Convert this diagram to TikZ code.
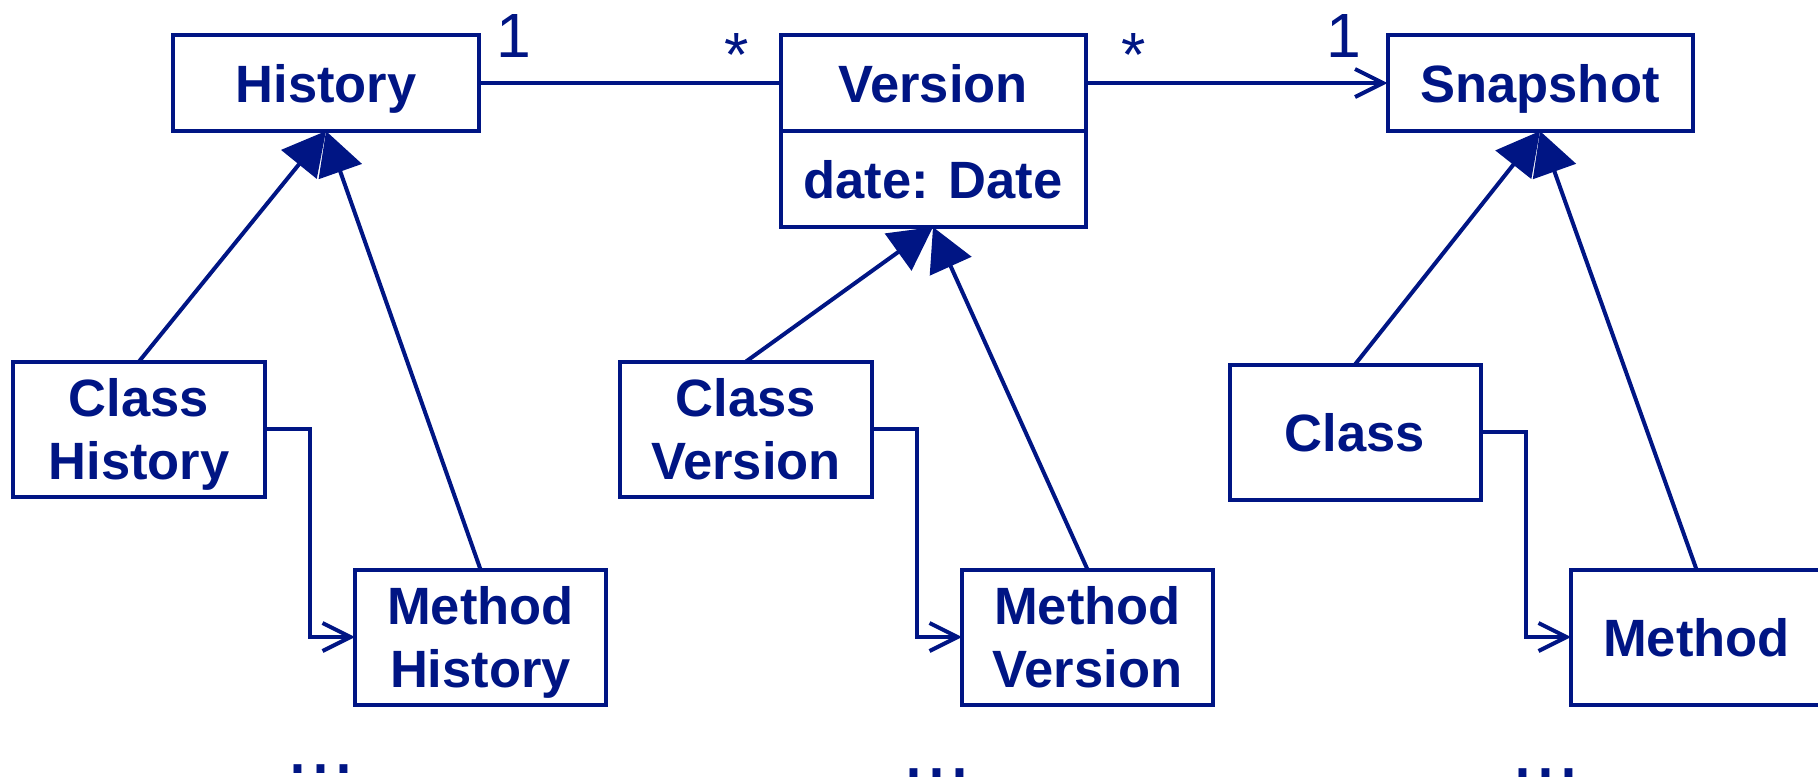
\documentclass[tikz,border=0pt]{standalone}
\usepackage{fontspec}
\setmainfont{Liberation Sans}
\usetikzlibrary{positioning,arrows.meta}
\definecolor{umlblue}{RGB}{0,21,132}

\begin{document}
\begin{tikzpicture}[x=0.2pt, y=-0.2pt, line width=0.8pt, umlblue]
  \tikzstyle{box}=[draw, rectangle, outer sep=0pt, inner sep=0pt, align=center,
    text depth=0pt, font=\fontsize{10.5}{12.6}\selectfont\bfseries]
  \tikzstyle{bigbox}=[box, minimum width=61pt, minimum height=19.2pt]
  \tikzstyle{smallbox}=[box, minimum width=50.2pt, minimum height=27pt]
  \tikzstyle{mult}=[anchor=base, inner sep=0pt, font=\fontsize{12.5}{15}\selectfont]
  \tikzstyle{etc}=[anchor=base, inner sep=0pt, font=\fontsize{16.5}{20}\selectfont]
  \tikzstyle{isa}=[-{Triangle[length=8.6pt, width=9pt]}]
  \tikzstyle{has}=[-{Straight Barb[length=5.6pt, width=5.6pt]}]
  \useasboundingbox (0,0) rectangle (1818,779);
  \clip (0,0) rectangle (1818,779);
  % top row
  \draw (326,83) node (hist) [bigbox] {History}
    node (ver) [bigbox, right=60.4pt of hist] {Version}
    node (verattr) [bigbox, below=0pt of ver] {date: Date}
    node (snap) [bigbox, right=60.4pt of ver] {Snapshot};
  \draw (hist) -- (ver);
  \draw [has] (ver) -- (snap);
  \node (m1) [mult] at (514,57) {1};
  \node (m2) [mult] at (737,76) {*};
  \node (m3) [mult] at (1134,76) {*};
  \node (m4) [mult] at (1344,57) {1};
  % history subclasses
  \node (chist) [smallbox] at (139,429) {Class\\History};
  \node (mhist) [smallbox, below right=14.6pt and 18.1pt of chist] {Method\\History};
  % version subclasses
  \node (cver) [smallbox] at (746,429) {Class\\Version};
  \node (mver) [smallbox, below right=14.6pt and 18.1pt of cver] {Method\\Version};
  % snapshot subclasses
  \node (cls) [smallbox] at (1355,432) {Class};
  \node (meth) [smallbox, below right=14pt and 18.1pt of cls] {Method};
  % inheritance
  \draw [isa] (chist.north) -- (hist.south);
  \draw [isa] (mhist.north) -- (hist.south);
  \draw [isa] (cver.north) -- (verattr.south);
  \draw [isa] (mver.north) -- (verattr.south);
  \draw [isa] (cls.north) -- (snap.south);
  \draw [isa] (meth.north) -- (snap.south);
  % class to method links
  \draw [has] (chist.east) -- ++(45,0) |- (mhist.west);
  \draw [has] (cver.east) -- ++(45,0) |- (mver.west);
  \draw [has] (cls.east) -- ++(45,0) |- (meth.west);
  % more below
  \node (etc1) [etc] at (321,773) {...};
  \node (etc2) [etc] at (937,777) {...};
  \node (etc3) [etc] at (1546,777) {...};
\end{tikzpicture}
\end{document}
